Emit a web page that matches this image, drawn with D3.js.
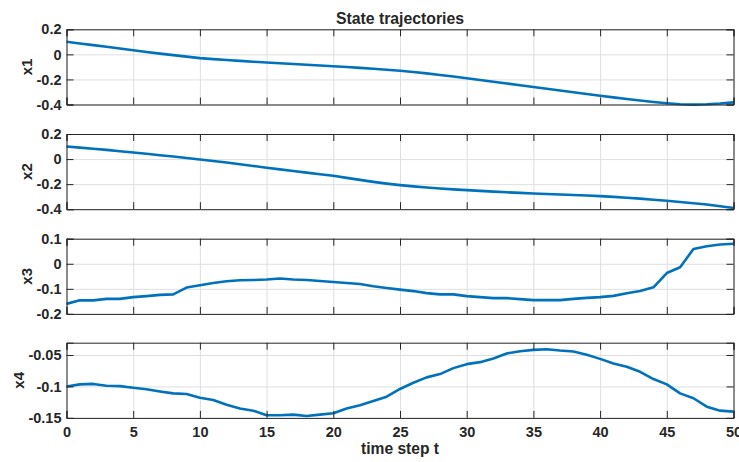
<!DOCTYPE html>
<html>
<head>
<meta charset="utf-8">
<script src="https://cdn.jsdelivr.net/npm/d3@7"></script>
<style>
  body { margin: 0; background: #fff; }
  text { font-family: "Liberation Sans", Arial, Helvetica, sans-serif; font-weight: bold; fill: #262626; }
</style>
</head>
<body>
<div id="chart"></div>
<script>
// time steps
var steps = d3.range(0, 51);

// state values, one per time step
var x1 = [0.100, 0.087, 0.074, 0.061, 0.047, 0.033, 0.019, 0.006, -0.006, -0.018,
          -0.030, -0.038, -0.045, -0.052, -0.059, -0.065, -0.071, -0.077, -0.083, -0.089,
          -0.095, -0.101, -0.108, -0.115, -0.123, -0.131, -0.141, -0.152, -0.164, -0.177,
          -0.190, -0.204, -0.218, -0.232, -0.246, -0.260, -0.274, -0.288, -0.302, -0.316,
          -0.330, -0.343, -0.356, -0.368, -0.380, -0.390, -0.398, -0.401, -0.398, -0.392, -0.383];
var x2 = [0.100, 0.091, 0.082, 0.073, 0.063, 0.053, 0.042, 0.031, 0.020, 0.009,
          -0.003, -0.015, -0.028, -0.041, -0.055, -0.069, -0.082, -0.095, -0.108, -0.121,
          -0.133, -0.150, -0.166, -0.182, -0.196, -0.208, -0.218, -0.227, -0.235, -0.242,
          -0.248, -0.254, -0.260, -0.265, -0.270, -0.275, -0.279, -0.283, -0.287, -0.291,
          -0.296, -0.302, -0.309, -0.316, -0.324, -0.333, -0.342, -0.352, -0.363, -0.376, -0.390];
var x3 = [-0.160, -0.146, -0.146, -0.140, -0.140, -0.133, -0.129, -0.124, -0.122, -0.095,
          -0.086, -0.077, -0.070, -0.066, -0.065, -0.063, -0.059, -0.063, -0.065, -0.069,
          -0.073, -0.077, -0.081, -0.090, -0.097, -0.103, -0.109, -0.117, -0.122, -0.122,
          -0.129, -0.133, -0.137, -0.137, -0.141, -0.145, -0.145, -0.145, -0.140, -0.136,
          -0.133, -0.128, -0.118, -0.109, -0.094, -0.037, -0.014, 0.059, 0.070, 0.077, 0.080];
var x4 = [-0.1000, -0.0967, -0.0960, -0.0990, -0.0995, -0.1020, -0.1046, -0.1080, -0.1110, -0.1120,
          -0.1180, -0.1215, -0.1290, -0.1350, -0.1385, -0.1457, -0.1457, -0.1448, -0.1470, -0.1448,
          -0.1426, -0.1350, -0.1300, -0.1230, -0.1163, -0.1040, -0.0942, -0.0856, -0.0804, -0.0709,
          -0.0646, -0.0614, -0.0555, -0.0476, -0.0440, -0.0419, -0.0408, -0.0429, -0.0445, -0.0498,
          -0.0562, -0.0635, -0.0688, -0.0767, -0.0883, -0.0967, -0.1110, -0.1188, -0.1321, -0.1385, -0.1400];

var xTicks = [0, 5, 10, 15, 20, 25, 30, 35, 40, 45, 50];

var panels = [
    { label: "x1", values: x1, domain: [-0.4, 0.2], ticks: [-0.4, -0.2, 0, 0.2] },
    { label: "x2", values: x2, domain: [-0.4, 0.2], ticks: [-0.4, -0.2, 0, 0.2] },
    { label: "x3", values: x3, domain: [-0.2, 0.1], ticks: [-0.2, -0.1, 0, 0.1] },
    { label: "x4", values: x4, domain: [-0.15, -0.0305], ticks: [-0.15, -0.1, -0.05] }
];

const W = 739, H = 462;
const left = 66.5, right = 733.5;
const tops = [29.3, 134, 238.7, 342.7];
const ph = 75.2;
const tickLen = 7;
const axisColor = "#262626";
const gridColor = "#dfdfdf";
const tickFont = "14.5px";

var svg = d3.select("#chart").append("svg")
    .attr("width", W)
    .attr("height", H);

var x = d3.scaleLinear().domain([0, 50]).range([left, right]);

function fmt(v) {
    return String(+v.toFixed(2));
}

panels.forEach((p, i) => {
    var top = tops[i], bottom = top + ph;
    var y = d3.scaleLinear().domain(p.domain).range([bottom, top]);
    var g = svg.append("g");

    // grid lines
    g.append("g")
        .attr("transform", `translate(0,${bottom})`)
        .call(d3.axisBottom(x).tickValues(xTicks).tickSize(-ph).tickFormat(""))
        .call(s => s.select(".domain").remove())
        .selectAll("line").attr("stroke", gridColor);
    g.append("g")
        .attr("transform", `translate(${left},0)`)
        .call(d3.axisLeft(y).tickValues(p.ticks).tickSize(-(right - left)).tickFormat(""))
        .call(s => s.select(".domain").remove())
        .selectAll("line").attr("stroke", gridColor);

    // data line
    g.append("path")
        .datum(p.values)
        .attr("fill", "none")
        .attr("stroke", "#0072BD")
        .attr("stroke-width", 2.6)
        .attr("stroke-linejoin", "round")
        .attr("d", d3.line().x((d, k) => x(steps[k])).y(d => y(d)));

    // inward ticks on all four sides
    var bottomAxis = d3.axisBottom(x).tickValues(xTicks).tickSize(-tickLen).tickPadding(8.5);
    if (i < panels.length - 1) bottomAxis.tickFormat("");
    g.append("g").attr("transform", `translate(0,${bottom})`).call(bottomAxis);
    g.append("g").attr("transform", `translate(0,${top})`)
        .call(d3.axisTop(x).tickValues(xTicks).tickSize(-tickLen).tickFormat(""));
    var gl = g.append("g").attr("transform", `translate(${left},0)`)
        .call(d3.axisLeft(y).tickValues(p.ticks).tickSize(-tickLen).tickPadding(5).tickFormat(fmt));
    g.append("g").attr("transform", `translate(${right},0)`)
        .call(d3.axisRight(y).tickValues(p.ticks).tickSize(-tickLen).tickFormat(""));

    g.selectAll(".domain").attr("stroke", axisColor).attr("stroke-width", 1);
    g.selectAll(".tick line").filter(function() { return this.getAttribute("stroke") !== gridColor; })
        .attr("stroke", axisColor);
    g.selectAll(".tick text")
        .attr("fill", axisColor)
        .style("font-size", tickFont)
        .style("font-weight", "bold")
        .style("font-family", "'Liberation Sans', Arial, sans-serif");

    // y label: placed left of widest tick label
    var maxW = 0;
    gl.selectAll(".tick text").each(function() { maxW = Math.max(maxW, this.getComputedTextLength()); });
    svg.append("text")
        .attr("transform", `translate(${left - 5 - maxW - 4.5},${(top + bottom) / 2}) rotate(-90)`)
        .attr("text-anchor", "middle")
        .style("font-size", "15px")
        .text(p.label);
});

svg.append("text")
    .attr("x", (left + right) / 2)
    .attr("y", 24)
    .attr("text-anchor", "middle")
    .style("font-size", "15.8px")
    .text("State trajectories");

svg.append("text")
    .attr("x", (left + right) / 2)
    .attr("y", 454)
    .attr("text-anchor", "middle")
    .style("font-size", "15.6px")
    .text("time step t");
</script>
</body>
</html>
